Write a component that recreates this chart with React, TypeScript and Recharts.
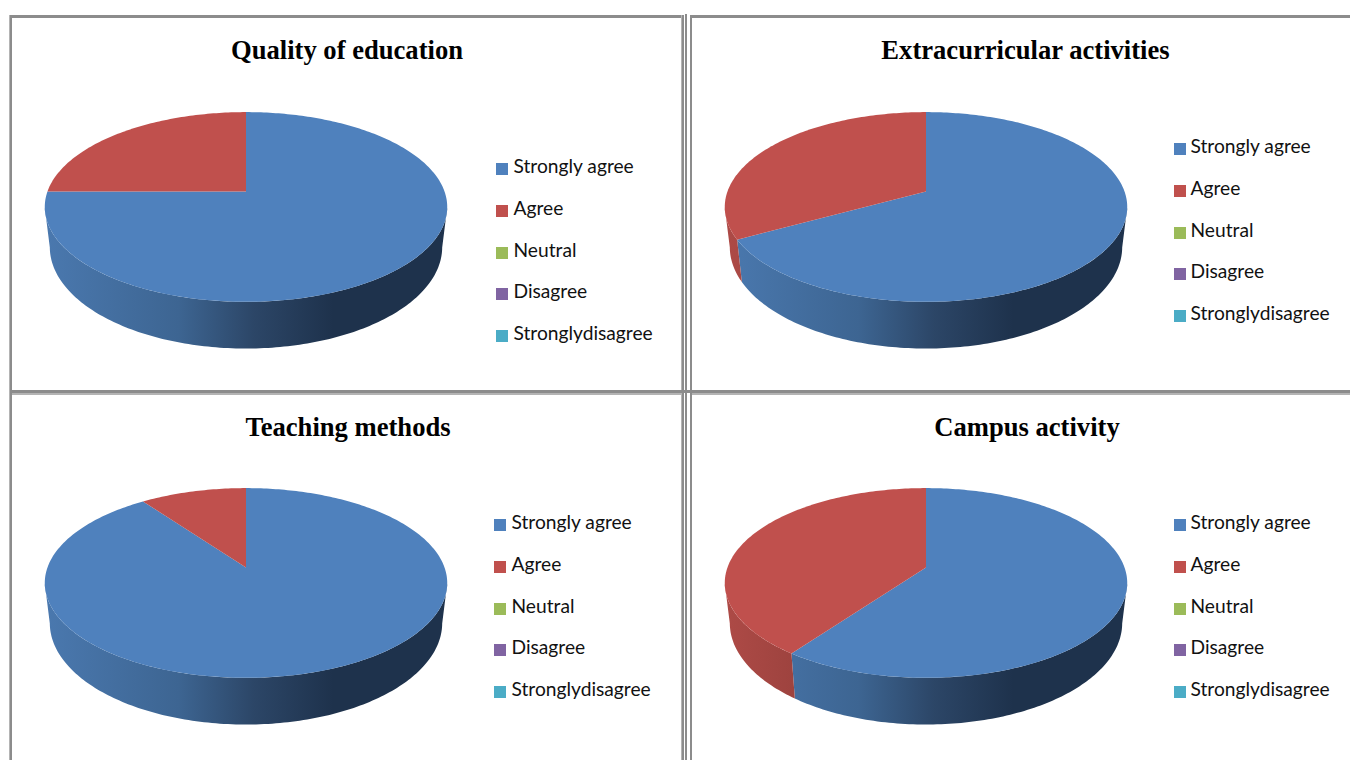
import { Legend, Pie, PieChart } from "recharts";

const categories = ["Strongly agree", "Agree", "Neutral", "Disagree", "Stronglydisagree"];
const colors = ["#4f81bd", "#c0504d", "#9bbb59", "#8064a2", "#4bacc6"];

const titles = ["Quality of education", "Extracurricular activities", "Teaching methods", "Campus activity"];
const qualityValues = [75, 25, 0, 0, 0];
const extracurricularValues = [67, 33, 0, 0, 0];
const teachingValues = [90, 10, 0, 0, 0];
const campusValues = [60, 40, 0, 0, 0];
const panelValues = [qualityValues, extracurricularValues, teachingValues, campusValues];

const panelLefts = [12, 692, 12, 692];
const panelTops = [18, 18, 394, 394];
const titleCenters = [335, 333.5, 336, 335];
const titleTops = [15, 15, 16, 16];
const legendLefts = [484, 482, 482, 482];
const legendTops = [145, 125, 125, 125];
const legendGaps = [17.5, 16.5, 17.5, 16.5];

const CHART_W = 658;
const CHART_H = 372;
const CX = 234;
const CY = 173.4;
const RADIUS = 198.5;
const ROW_STEP = 41.75;

// perspective of the tilted disc: far edge is squeezed, near edge stretched
const TILT_K = -0.164;
const TILT_B = 92.3;
const BOTTOM_SCALE_X = 0.975;
const BOTTOM_SCALE_Y = 1.07;
const BOTTOM_SHIFT = 39;
// angles where the rim of the disc turns from back to front
const FRONT_FROM = -9.7;
const FRONT_TO = -170.3;

function project(angle: number, radius: number, depth: boolean) {
  const rad = (angle * Math.PI) / 180;
  const x = Math.cos(rad);
  const y = -Math.sin(rad);
  const w = 1 + TILT_K * y;
  const px = (radius * x) / w;
  const py = (TILT_B * y) / w;
  if (!depth) return [px, py];
  return [px * BOTTOM_SCALE_X, py * BOTTOM_SCALE_Y + BOTTOM_SHIFT];
}

function arcPoints(start: number, end: number, radius: number, cx: number, cy: number, depth: boolean) {
  const steps = Math.max(2, Math.ceil(Math.abs(end - start)));
  const out: string[] = [];
  for (let i = 0; i <= steps; i++) {
    const [px, py] = project(start + ((end - start) * i) / steps, radius, depth);
    out.push(`${(cx + px).toFixed(2)} ${(cy + py).toFixed(2)}`);
  }
  return out;
}

function TopFace(props: any) {
  const { cx, cy, outerRadius, startAngle, endAngle, fill } = props;
  if (Math.abs(endAngle - startAngle) < 0.01) return null;
  const pts = arcPoints(startAngle, endAngle, outerRadius, cx, cy, false);
  return <path d={`M ${cx} ${cy} L ${pts.join(" L ")} Z`} fill={fill} />;
}

function WallFace(props: any) {
  const { cx, cy, outerRadius, startAngle, endAngle, index, panel } = props;
  const from = Math.min(startAngle, FRONT_FROM);
  const to = Math.max(endAngle, FRONT_TO);
  if (from - to < 0.01) return null;
  const upper = arcPoints(from, to, outerRadius, cx, cy, false);
  const lower = arcPoints(to, from, outerRadius, cx, cy, true);
  return <path d={`M ${upper.join(" L ")} L ${lower.join(" L ")} Z`} fill={`url(#wall-${panel}-${index})`} />;
}

function WallGradient({ id, stops }: { id: string; stops: string[] }) {
  return (
    <linearGradient id={id} gradientUnits="userSpaceOnUse" x1={CX - RADIUS} x2={CX + RADIUS} y1={0} y2={0}>
      <stop offset="0" stopColor={stops[0]} />
      <stop offset="0.33" stopColor={stops[1]} />
      <stop offset="0.52" stopColor={stops[2]} />
      <stop offset="0.72" stopColor={stops[3]} />
      <stop offset="1" stopColor={stops[3]} />
    </linearGradient>
  );
}

const blueWall = ["#4a78ae", "#3d6592", "#2c4667", "#1e324c"];
const redWall = ["#ad4a46", "#8f3c38", "#7a3230", "#6c2c2a"];

function LegendList({ payload, gap }: any) {
  // both pies report their sectors, keep one row per category
  const items = (payload || []).filter(
    (item: any, i: number, all: any[]) => all.findIndex((o) => o.value === item.value) === i
  );
  return (
    <div style={{ position: "relative", fontFamily: "Lato, sans-serif", fontSize: 19.2, color: "#111" }}>
      {items.map((item: any, i: number) => (
        <div key={item.value} style={{ position: "absolute", top: i * ROW_STEP, left: 0, whiteSpace: "nowrap", height: 24 }}>
          <span style={{ position: "absolute", left: 0, top: 0, width: 12, height: 12, background: item.color }} />
          <span style={{ position: "absolute", left: gap, top: -9, lineHeight: "24px" }}>{item.value}</span>
        </div>
      ))}
    </div>
  );
}

function Panel({ index }: { index: number }) {
  const data = categories.map((name, i) => ({ name, value: panelValues[index][i], fill: colors[i] }));
  return (
    <div style={{ position: "absolute", left: panelLefts[index], top: panelTops[index], width: CHART_W, height: CHART_H }}>
      <div
        style={{
          position: "absolute",
          left: titleCenters[index] - 200,
          width: 400,
          top: titleTops[index],
          textAlign: "center",
          fontFamily: "'Liberation Serif', serif",
          fontWeight: 700,
          fontSize: 26.6,
          lineHeight: "34px",
          color: "#000",
        }}
      >
        {titles[index]}
      </div>
      <PieChart width={CHART_W} height={CHART_H} margin={{ top: 0, right: 0, bottom: 0, left: 0 }}>
        <defs>
          <WallGradient id={`wall-${index}-0`} stops={blueWall} />
          <WallGradient id={`wall-${index}-1`} stops={redWall} />
        </defs>
        <Pie
          data={data}
          dataKey="value"
          nameKey="name"
          cx={CX}
          cy={CY}
          outerRadius={RADIUS}
          startAngle={90}
          endAngle={-270}
          legendType="none"
          stroke="none"
          isAnimationActive={false}
          shape={(p: any) => <WallFace {...p} panel={index} />}
        />
        <Pie
          data={data}
          dataKey="value"
          nameKey="name"
          cx={CX}
          cy={CY}
          outerRadius={RADIUS}
          startAngle={90}
          endAngle={-270}
          stroke="none"
          isAnimationActive={false}
          shape={TopFace}
        />
        <Legend
          layout="vertical"
          align="center"
          verticalAlign="middle"
          itemSorter={null}
          content={<LegendList gap={legendGaps[index]} />}
          wrapperStyle={{ left: legendLefts[index], top: legendTops[index], width: 170 }}
        />
      </PieChart>
    </div>
  );
}

const gridColor = "#8c8c8c";
const gridLight = "#b4b4b4";
// table rules: [left, top, width, height]
const rules = [
  [10, 15, 671, 2.5],
  [692, 15, 658, 2.5],
  [10, 15, 2, 745],
  [682, 15, 2, 745],
  [685, 14, 2, 746],
  [689.5, 15, 2.5, 745],
  [10, 390, 672, 3],
  [684, 390, 5.5, 3],
  [692, 390, 658, 3],
];
const lightRules = [
  [9, 15, 1, 745],
  [681, 15, 1, 745],
  [12, 393, 669, 1.5],
  [692, 393, 658, 1.5],
];

export default function App() {
  return (
    <div style={{ position: "absolute", left: 0, top: 0, width: 1350, height: 760, overflow: "hidden", background: "#fff" }}>
      {lightRules.map((r, i) => (
        <div key={i} style={{ position: "absolute", left: r[0], top: r[1], width: r[2], height: r[3], background: gridLight }} />
      ))}
      {rules.map((r, i) => (
        <div key={i} style={{ position: "absolute", left: r[0], top: r[1], width: r[2], height: r[3], background: gridColor }} />
      ))}
      {titles.map((_, i) => (
        <Panel key={i} index={i} />
      ))}
    </div>
  );
}
